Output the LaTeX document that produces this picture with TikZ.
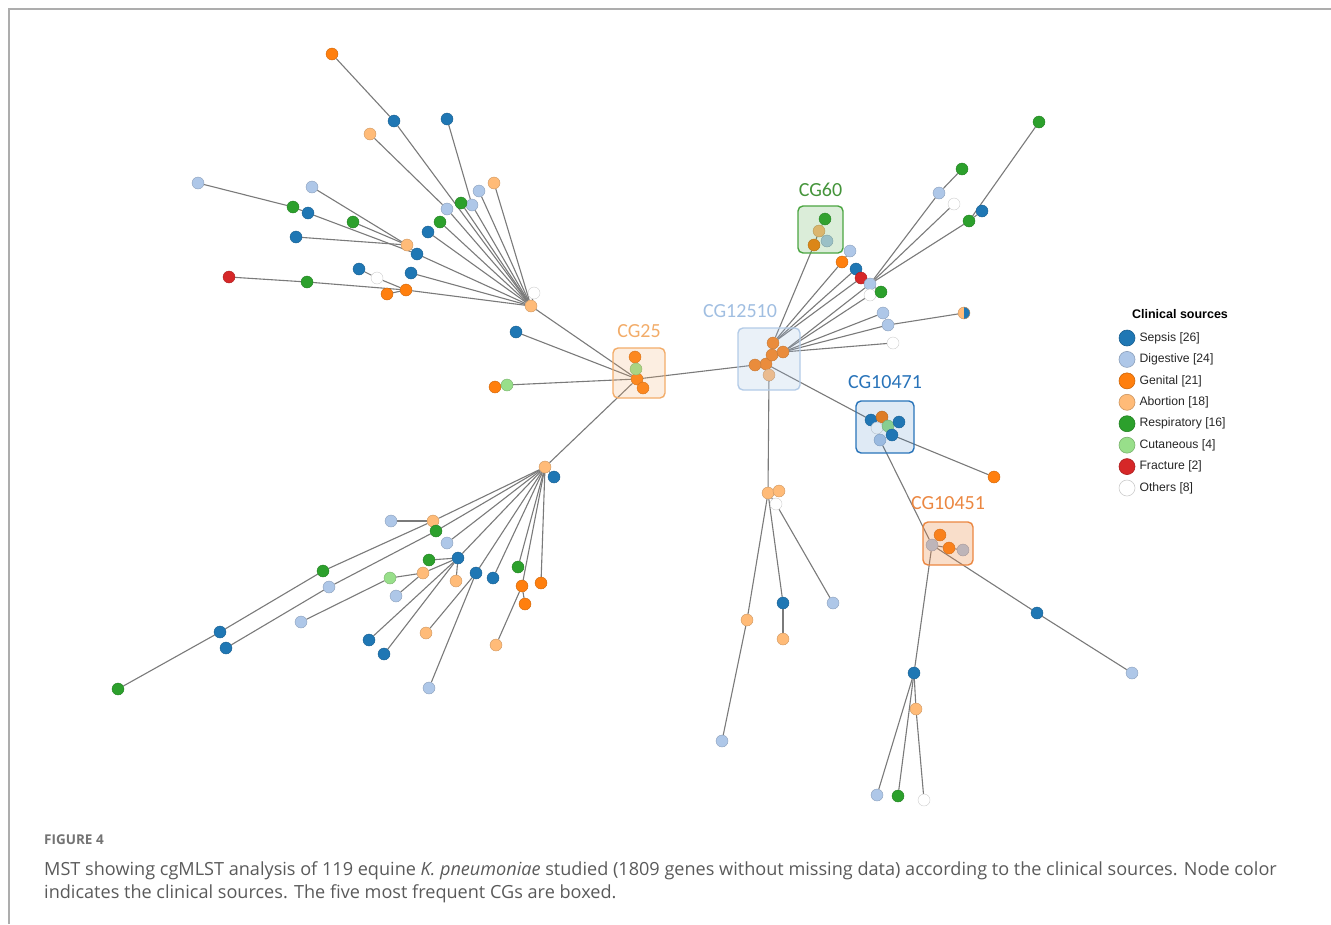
\documentclass[tikz,border=0pt]{standalone}
\usepackage{fontspec}
\setmainfont{Open Sans}
\newfontfamily\cgfont{Carlito}
\newfontfamily\legfont{Liberation Sans}
\usetikzlibrary{positioning}
\pgfdeclarelayer{back}
\pgfsetlayers{back,main}
\definecolor{sep}{RGB}{31,119,180}
\definecolor{dig}{RGB}{174,199,232}
\definecolor{gen}{RGB}{255,127,14}
\definecolor{abo}{RGB}{255,187,120}
\definecolor{res}{RGB}{44,160,44}
\definecolor{cut}{RGB}{152,223,138}
\definecolor{fra}{RGB}{214,39,40}
\definecolor{oth}{RGB}{255,255,255}
\definecolor{cgA}{RGB}{242,172,105}
\definecolor{cgB}{RGB}{160,190,225}
\definecolor{cgC}{RGB}{75,165,65}
\definecolor{cgD}{RGB}{40,115,185}
\definecolor{cgE}{RGB}{235,135,65}
\definecolor{capgray}{RGB}{90,90,90}
\tikzset{
  pt/.style={circle,inner sep=0pt,minimum size=12pt,fill=#1,draw=#1!80!black,line width=.4pt},
  edge/.style={draw=black!52,line width=1.1pt},
  cgbox/.style={draw=#1,fill=#1,rounded corners=5pt,line width=1.4pt},
  cglab/.style={text=#1,inner sep=0pt,font=\cgfont\fontsize{20}{20}\selectfont},
}

\begin{document}
\begin{tikzpicture}[x=1pt,y=-1pt]
\useasboundingbox (0,0) rectangle (1331,924);
\draw[black!32,line width=1.5pt] (9,924) |- (1331,9);

\foreach \n/\c/\x/\y in {ah/abo/531/306,aw/oth/534/293,a1/gen/332/54,a2/sep/394/121,a3/sep/447/119,a4/dig/472/205,a5/abo/370/134,a6/dig/447/209,a7/dig/479/191,a8/abo/494/183,a9/res/461/203,a10/res/440/222,a11/sep/428/232,b1/abo/407/245,b2/sep/417/254,b3/dig/198/183,b4/res/293/207,b5/sep/308/213,b6/dig/312/187,b7/res/353/222,b8/sep/296/237,c1/fra/229/277,c2/res/307/282,c3/gen/406/290,c4/gen/387/294,c5/sep/359/269,c6/oth/377/278,c7/sep/411/273}
  \node[pt=\c] (\n) at (\x,\y) {};
\foreach \n/\c/\x/\y in {dh/gen/637/379,d1/gen/635/357,d2/cut/636/369,d3/gen/643/388,d4/gen/495/387,d5/cut/507/385,d6/sep/516/332,eh/gen/766/364,e1/gen/773/343,e2/gen/772/355,e3/gen/783/352,e4/gen/755/365,e5/abo/769/375,f1/res/825/219,f2/abo/819/231,f3/dig/827/241,f4/gen/814/245}
  \node[pt=\c] (\n) at (\x,\y) {};
\foreach \n/\c/\x/\y in {g1/gen/842/262,g2/dig/850/251,g3/sep/856/269,g4/fra/861/278,gh/dig/870/284,g5/oth/870/295,g6/res/881/292,g7/dig/939/193,g8/res/962/169,g9/oth/954/204,g10/res/969/221,g11/res/1039/122,g12/sep/982/211,g13/dig/883/313,g14/dig/888/325,g16/oth/893/343}
  \node[pt=\c] (\n) at (\x,\y) {};
\node[pt=abo,path picture={\fill[sep] (path picture bounding box.north) rectangle (path picture bounding box.south east);}] (g15) at (964,313) {};
\foreach \n/\c/\x/\y in {h1/sep/871/420,h2/gen/882/417,h3/oth/877/428,h4/cut/888/426,h5/sep/899/422,h6/sep/892/435,h7/dig/880/440,h8/gen/994/477,k1/dig/932/545,k2/gen/940/535,k3/gen/949/548,k4/dig/963/550,m1/sep/914/673,m2/abo/916/709,m3/dig/877/795,m4/res/898/796,m5/oth/924/800,m6/sep/1037/613,m7/dig/1132/673}
  \node[pt=\c] (\n) at (\x,\y) {};
\foreach \n/\c/\x/\y in {n1/abo/768/493,n2/abo/779/491,n3/oth/776/504,n4/abo/747/620,n5/dig/722/741,n6/sep/783/603,n7/abo/783/639,n8/dig/833/603}
  \node[pt=\c] (\n) at (\x,\y) {};
\foreach \n/\c/\x/\y in {ph/abo/545/467,p0/sep/554/477,p1/dig/391/521,p2/abo/433/521,p3/res/436/531,p4/res/323/571,p5/sep/220/632,p6/res/118/689,p7/dig/329/587,p8/sep/226/648,p9/dig/447/543,p10/res/429/560,p11/sep/458/558,p12/cut/390/578,p13/abo/423/573,p14/dig/301/622,p15/dig/396/596,p16/abo/456/581,p17/sep/369/640,p18/sep/384/654,p19/sep/476/573,p20/abo/426/633,p21/dig/429/688,p22/sep/493/578,p23/res/518/567,p24/gen/522/586,p25/gen/525/604,p26/abo/496/645,p27/gen/541/583}
  \node[pt=\c] (\n) at (\x,\y) {};

\begin{pgfonlayer}{back}
\foreach \a/\b in {a1/a2,a2/ah,a3/a4,a4/ah,a5/a6,a6/ah,a7/ah,a8/ah,a9/ah,a10/ah,a11/ah,aw/ah,b1/b2,b2/ah,b3/b4,b4/b5,b5/b2,b6/b1,b7/b1,b8/b1,c1/c2,c2/c3,c3/ah,c4/c3,c5/c6,c6/c3,c7/ah,ah/dh,d1/d2,d2/dh,d3/dh,d4/d5,d5/dh,d6/dh,dh/e4,e4/eh,eh/e2,e2/e1,e2/e3,eh/e5,e1/f4,f4/f2,f2/f1,f2/f3}
  \draw[edge] (\a) -- (\b);
\foreach \a/\b in {e1/g1,g1/g2,e1/g3,e1/g4,e3/gh,e3/g5,gh/g6,gh/g7,g7/g8,gh/g9,gh/g10,g10/g11,g10/g12,e3/g13,e3/g14,g14/g15,e3/g16,eh/h1,h1/h3,h2/h3,h3/h4,h4/h5,h4/h6,h6/h8,h3/h7,h7/k1,k1/k2,k1/k3,k3/k4,k1/m1,m1/m2,m2/m5,m1/m3,m1/m4,k1/m6,m6/m7}
  \draw[edge] (\a) -- (\b);
\foreach \a/\b in {e5/n1,n1/n2,n1/n3,n1/n4,n4/n5,n1/n6,n6/n7,n3/n8,dh/ph,ph/p0,p1/p2,p2/ph,p2/p4,p4/p5,p5/p6,ph/p3,p3/p7,p7/p8,p9/ph,p10/p11,p11/ph,p14/p12,p12/p13,p13/p11,p15/p13,p16/p11,p17/p11,p18/p11,p19/ph,p20/p19,p21/p19,p22/ph,p23/ph,p24/ph,p24/p25,p24/p26,p27/ph}
  \draw[edge] (\a) -- (\b);
\end{pgfonlayer}

\node[cgbox=cgA,fill opacity=.2,minimum width=52pt,minimum height=50pt] (x25) at (639,373) {};
\node[cgbox=cgB,fill opacity=.22,draw=cgB!80,minimum width=62pt,minimum height=62pt] (x12510) at (769,359) {};
\node[cgbox=cgC,fill opacity=.2,minimum width=45pt,minimum height=47pt] (x60) at (820.5,229.5) {};
\node[cgbox=cgD,fill opacity=.15,minimum width=58pt,minimum height=52pt] (x10471) at (885,427) {};
\node[cgbox=cgE,fill opacity=.28,minimum width=50pt,minimum height=43pt] (x10451) at (948,543.5) {};
\node[cglab=cgA,above=9pt of x25] (l25) {CG25};
\node[cglab=cgB,above=9pt of x12510,xshift=-29pt] (l12510) {CG12510};
\node[cglab=cgC!90!black,above=8pt of x60] (l60) {CG60};
\node[cglab=cgD,above=11pt of x10471] (l10471) {CG10471};
\node[cglab=cgE,above=11pt of x10451] (l10451) {CG10451};

\node[font=\legfont\bfseries\fontsize{12.5}{14}\selectfont] (lt) at (1180,314) {Clinical sources};
\foreach \c/\t [count=\i] in {sep/{Sepsis [26]},dig/{Digestive [24]},gen/{Genital [21]},abo/{Abortion [18]},res/{Respiratory [16]},cut/{Cutaneous [4]},fra/{Fracture [2]},oth/{Others [8]}}
  \node[pt=\c,minimum size=16pt,line width=.6pt] (lg\i) at (1127,{338+21.43*(\i-1)}) {};
\foreach \t [count=\i] in {{Sepsis [26]},{Digestive [24]},{Genital [21]},{Abortion [18]},{Respiratory [16]},{Cutaneous [4]},{Fracture [2]},{Others [8]}}
  \node[font=\legfont\fontsize{12.2}{14}\selectfont,text=black!85,inner sep=0pt,right=4pt of lg\i] {\t};

\node[anchor=west,inner sep=0pt,text=capgray!85,font=\fontseries{sb}\fontsize{13.5}{15}\selectfont] (fig) at (44,840) {FIGURE 4};
\node[below right=16pt and 0pt of fig.south west,inner sep=0pt,align=left,text=capgray,font=\fontsize{18.1}{23}\selectfont] (cap) {MST showing cgMLST analysis of 119 equine \textit{K. pneumoniae} studied (1809 genes without missing data) according to the clinical sources. Node color\\indicates the clinical sources. The five most frequent CGs are boxed.};
\end{tikzpicture}
\end{document}
